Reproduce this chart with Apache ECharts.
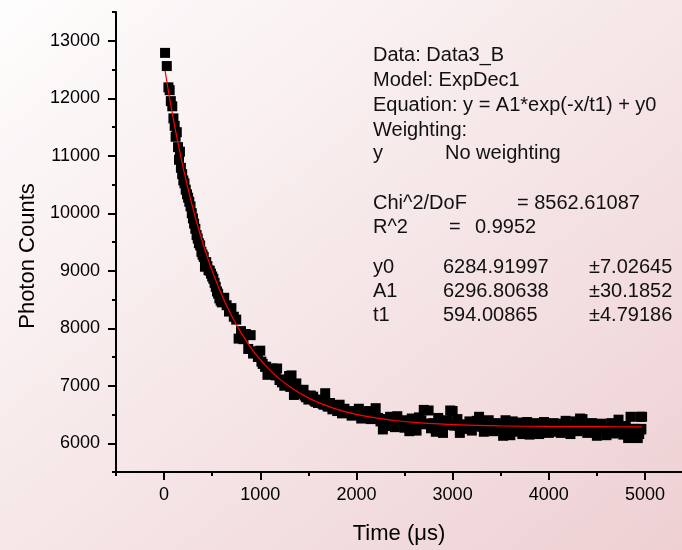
<!DOCTYPE html>
<html>
<head>
<meta charset="utf-8">
<script src="https://cdn.jsdelivr.net/npm/echarts@6/dist/echarts.min.js"></script>
<style>
html,body{margin:0;padding:0;}
#chart{width:682px;height:550px;background:linear-gradient(to bottom right,#fefdfd 0%,#f6e7e8 50%,#eed0d3 100%);}
</style>
</head>
<body>
<div id="chart"></div>
<script>
// ---- data ----
const timeUs = [10,28,45,58,70,85,97,110,120,132,145,155,165,175,188,200,212,225,238,250,262,275,288,300,312,325,338,350,362,375,388,400,412,425,438,450,462,475,488,500,512,525,537,550,562,575,588,
600,625,650,675,700,725,750,775,800,825,850,875,900,925,950,975,1000,1025,1050,1075,1100,1125,1150,1175,1200,1225,1250,1275,1300,1325,1350,1375,1400,1425,1450,1475,1500,1525,1550,1575,1600,1625,1650,1675,1700,1725,1750,1775,1800,1825,1850,1875,1900,1925,1950,1975,
2000,2025,2050,2075,2100,2125,2150,2175,2200,2225,2250,2275,2300,2325,2350,2375,2400,2425,2450,2475,2500,2525,2550,2575,2600,2625,2650,2675,2700,2725,2750,2775,2800,2825,2850,2875,2900,2925,2950,2975,
3000,3025,3050,3075,3100,3125,3150,3175,3200,3225,3250,3275,3300,3325,3350,3375,3400,3425,3450,3475,3500,3525,3550,3575,3600,3625,3650,3675,3700,3725,3750,3775,3800,3825,3850,3875,3900,3925,3950,3975,
4000,4025,4050,4075,4100,4125,4150,4175,4200,4225,4250,4275,4300,4325,4350,4375,4400,4425,4450,4475,4500,4525,4550,4575,4600,4625,4650,4675,4700,4725,4750,4775,4800,4825,4850,4875,4900,4925,4950,4970,4960,4940];
const photonCounts = [12789,12560,12190,12140,11950,11860,11650,11520,11330,11410,11150,10930,11070,10790,10680,10570,10520,10410,10330,10270,10200,10120,10000,9910,9820,9730,9620,9560,9480,9440,9330,9280,9240,9070,9150,9080,9010,9000,8950,8900,8860,8790,8720,8640,8600,8520,8480,
8450,8530,8400,8290,8350,8200,8150,7820,7950,7810,7900,7640,7880,7560,7600,7500,7610,7380,7330,7190,7260,7300,7200,7300,7100,7060,7000,7050,7170,7180,6840,7040,6880,6860,6930,6800,6760,6830,6810,6720,6700,6760,6680,6870,6640,6700,6590,6620,6560,6670,6520,6600,6530,6560,6480,6540,
6500,6600,6430,6520,6460,6560,6420,6500,6610,6440,6380,6240,6410,6300,6460,6380,6280,6470,6350,6400,6270,6380,6210,6430,6300,6220,6450,6400,6580,6330,6570,6260,6350,6200,6440,6300,6180,6380,6400,6570,
6560,6310,6420,6180,6330,6260,6250,6380,6220,6300,6390,6460,6330,6200,6300,6400,6240,6210,6350,6300,6260,6130,6400,6300,6140,6380,6250,6200,6360,6160,6300,6370,6150,6280,6350,6200,6160,6320,6370,6250,
6180,6330,6350,6200,6270,6180,6340,6390,6230,6160,6300,6380,6210,6430,6420,6260,6180,6340,6350,6200,6130,6300,6340,6250,6140,6230,6350,6170,6280,6410,6200,6150,6300,6090,6460,6130,6250,6090,6460,6460,6240,6160];

// additional points lying inside the dense band
const bandTimeUs = [1012,1062,1112,1162,1212,1262,1312,1362,1412,1462,1512,1562,1612,1662,1712,1762,1812,1862,1912,1962,
2012,2062,2112,2162,2212,2262,2312,2362,2412,2462,2512,2562,2612,2662,2712,2762,2812,2862,2912,2962,
3012,3062,3112,3162,3212,3262,3312,3362,3412,3462,3512,3562,3612,3662,3712,3762,3812,3862,3912,3962,
4012,4062,4112,4162,4212,4262,4312,4362,4412,4462,4512,4562,4612,4662,4712,4762,4812,4862,4912,4962];
const bandCounts = [7420,7330,7250,7180,7110,7030,6980,6920,6870,6830,6780,6740,6700,6670,6640,6610,6590,6560,6540,6510,
6500,6480,6470,6450,6440,6420,6410,6400,6390,6380,6370,6360,6360,6350,6340,6340,6330,6330,6320,6320,
6310,6310,6300,6300,6300,6290,6290,6290,6280,6280,6280,6270,6270,6270,6260,6260,6250,6250,6250,6250,
6250,6260,6250,6260,6250,6250,6270,6250,6260,6250,6240,6250,6250,6250,6240,6250,6230,6250,6240,6250];

// fitted ExpDec1 curve as drawn (red line)
const fitTime = [10,50,100,150,200,250,300,350,400,450,500,600,700,800,900,1000,1100,1200,1300,1400,1500,1600,1800,2000,2200,2400,2600,2800,3000,3500,4000,4500,4970];
const fitCounts = [12479,12073,11606,11176,10782,10418,10085,9778,9496,9237,8998,8578,8223,7923,7669,7454,7273,7120,6991,6881,6789,6711,6589,6502,6440,6396,6364,6341,6325,6302,6292,6288,6286];

const xMajorTicks = [0,1000,2000,3000,4000,5000];
const xMinorTicks = [-500,500,1500,2500,3500,4500];
const yMajorTicks = [6000,7000,8000,9000,10000,11000,12000,13000];
const yMinorTicks = [5500,6500,7500,8500,9500,10500,11500,12500,13500];

const annotationLeft = ['Data: Data3_B','Model: ExpDec1','Equation: y = A1*exp(-x/t1) + y0','Weighting:','y','Chi^2/DoF','R^2','y0','A1','t1'];
const annotationMid = ['','','','','No weighting','','=','6284.91997','6296.80638','594.00865'];
const annotationRight = ['','','','','','= 8562.61087','0.9952','±7.02645','±30.1852','±4.79186'];

// ---- chart ----
const FONT = '"Liberation Sans", Arial, sans-serif';
const chart = echarts.init(document.getElementById('chart'), null, {renderer:'canvas'});

const lineY = [55,80,105,130,153,203,227,267,291,315];
const midX = [0,0,0,0,445,0,449,443,443,443];
const rightX = [0,0,0,0,0,517,475,589,589,589];
const graphics = [];
function addText(t, x, y){
  if(!t) return;
  graphics.push({type:'text', x:x, y:y, silent:true, z:100,
    style:{text:t, fill:'#111', font:'20px ' + FONT, fontSize:20, fontFamily:FONT,
      verticalAlign:'middle', textVerticalAlign:'middle', align:'left', textAlign:'left'}});
}
for(let i=0;i<annotationLeft.length;i++){
  addText(annotationLeft[i], 373, lineY[i]);
  addText(annotationMid[i], midX[i], lineY[i]);
  addText(annotationRight[i], rightX[i], lineY[i]);
}

const axisLineStyle = {show:true, onZero:false, lineStyle:{color:'#000', width:2}};
const labelStyle = {color:'#000', fontSize:18, fontFamily:FONT, formatter:function(v){return String(v);}};

chart.setOption({
  backgroundColor:'transparent',
  animation:false,
  grid:{left:116, right:0, top:12, bottom:70, containLabel:false},
  xAxis:[
    {type:'value', min:-500, max:5385, position:'bottom',
     name:'Time (μs)', nameLocation:'middle', nameGap:51,
     nameTextStyle:{color:'#000', fontSize:22, fontFamily:FONT},
     axisLine:axisLineStyle,
     axisTick:{show:true, inside:false, length:8, lineStyle:{color:'#000', width:2}, customValues:xMajorTicks},
     axisLabel:Object.assign({show:true, margin:14, customValues:xMajorTicks}, labelStyle),
     splitLine:{show:false}},
    {type:'value', min:-500, max:5385, position:'bottom',
     axisLine:{show:false, onZero:false},
     axisTick:{show:true, inside:false, length:4, lineStyle:{color:'#000', width:2}, customValues:xMinorTicks},
     axisLabel:{show:false},
     splitLine:{show:false}}
  ],
  yAxis:[
    {type:'value', min:5500, max:13500, position:'left',
     name:'Photon Counts', nameLocation:'middle', nameGap:73,
     nameTextStyle:{color:'#000', fontSize:22, fontFamily:FONT, padding:[0,28,0,0]},
     axisLine:axisLineStyle,
     axisTick:{show:true, inside:false, length:8, lineStyle:{color:'#000', width:2}, customValues:yMajorTicks},
     axisLabel:Object.assign({show:true, margin:16, customValues:yMajorTicks}, labelStyle),
     splitLine:{show:false}},
    {type:'value', min:5500, max:13500, position:'left',
     axisLine:{show:false, onZero:false},
     axisTick:{show:true, inside:false, length:4, lineStyle:{color:'#000', width:2}, customValues:yMinorTicks},
     axisLabel:{show:false},
     splitLine:{show:false}}
  ],
  graphic:graphics,
  series:[
    {type:'scatter', xAxisIndex:0, yAxisIndex:0, symbol:'rect', symbolSize:10,
     itemStyle:{color:'#000', opacity:1},
     data:timeUs.map((t,i)=>[t, photonCounts[i]]).concat(bandTimeUs.map((t,i)=>[t, bandCounts[i]]))},
    {type:'line', xAxisIndex:0, yAxisIndex:0, symbol:'none', smooth:0.3,
     lineStyle:{color:'#ff0000', width:1.2}, z:3,
     data:fitTime.map((t,i)=>[t, fitCounts[i]])}
  ]
});
</script>
</body>
</html>
